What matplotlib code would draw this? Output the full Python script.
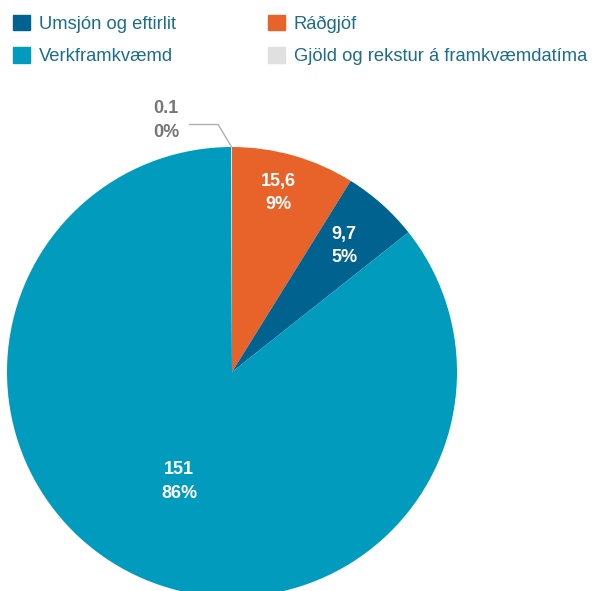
import matplotlib.pyplot as plt
import matplotlib.patches as mpatches
import numpy as np

plt.rcParams['font.family'] = ['Liberation Sans', 'DejaVu Sans']

# legend order
categories = ['Umsjón og eftirlit', 'Ráðgjöf', 'Verkframkvæmd', 'Gjöld og rekstur á framkvæmdatíma']
colors = ['#00628f', '#e8632a', '#009bbd', '#e0e0e0']
# pie order (clockwise from top)
pie_order = [1, 0, 2, 3]
values = [9.7, 15.6, 151, 0.1]
value_labels = ['9,7', '15,6', '151', '0.1']
pct_labels = ['5%', '9%', '86%', '0%']

fig = plt.figure(figsize=(5.94, 5.91), dpi=100)
ax = fig.add_axes([7 / 594, (219 - 225) / 591, 450 / 594, 450 / 591])

vals = [values[i] for i in pie_order]
cols = [colors[i] for i in pie_order]
wedges, _ = ax.pie(vals, colors=cols, startangle=90, counterclock=False, radius=1,
                   wedgeprops=dict(linewidth=0))
ax.set_xlim(-1, 1)
ax.set_ylim(-1, 1)
ax.set_aspect('equal')
ax.axis('off')

dists = [0.82, 0.75, 0.54]
shifts = [1.5, 0, 0]
for k, idx in enumerate(pie_order[:3]):
    w = wedges[k]
    ang = np.deg2rad((w.theta1 + w.theta2) / 2 + shifts[k])
    x, y = dists[k] * np.cos(ang), dists[k] * np.sin(ang)
    ax.text(x, y, value_labels[idx] + '\n' + pct_labels[idx], ha='center', va='center',
            color='white', fontsize=13, fontweight='bold', linespacing=1.47)

# tiny slice label with leader line
w = wedges[3]
ang = np.deg2rad((w.theta1 + w.theta2) / 2)
px, py = np.cos(ang), np.sin(ang)
ax.plot([px, px - 0.06, px - 0.19], [py, py + 0.1, py + 0.1], color='#b0b0b0', lw=1,
        clip_on=False, solid_capstyle='butt')
ax.text(px - 0.35, py + 0.118, value_labels[3] + '\n' + pct_labels[3], ha='left', va='center',
        color='#767676', fontsize=13, fontweight='bold', linespacing=1.47)

handles = [mpatches.Patch(color=colors[i], label=categories[i]) for i in [0, 2, 1, 3]]
fig.legend(handles=handles, loc='upper left', bbox_to_anchor=(0.0, 1.0 - 2 / 591), ncol=2,
           frameon=False, fontsize=13.2, handlelength=0.93, handleheight=0.93,
           handletextpad=0.5, columnspacing=5.0, labelspacing=0.78,
           labelcolor='#1b6d8c', borderaxespad=0.3)

fig.savefig('out.png', dpi=100)
